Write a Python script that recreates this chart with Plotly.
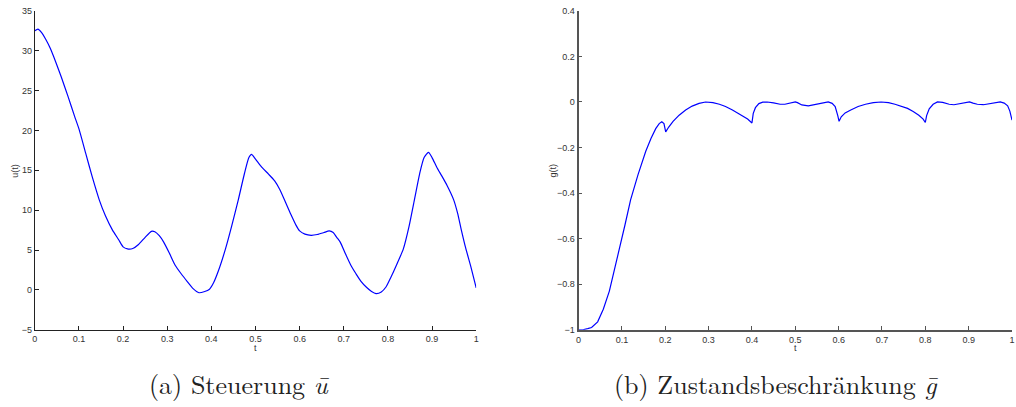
import plotly.graph_objects as go

# Left panel: control u(t)
t_u = [0.000, 0.007, 0.015, 0.025, 0.035, 0.048, 0.060, 0.075, 0.090, 0.100,
       0.116, 0.130, 0.146, 0.160, 0.176, 0.190, 0.200, 0.210, 0.222, 0.235,
       0.250, 0.264, 0.272, 0.282, 0.292, 0.305, 0.318, 0.332, 0.345, 0.358,
       0.372, 0.385, 0.395, 0.405, 0.416, 0.432, 0.446, 0.461, 0.475, 0.485,
       0.491, 0.500, 0.514, 0.530, 0.543, 0.555, 0.568, 0.580, 0.592, 0.600,
       0.612, 0.626, 0.640, 0.655, 0.667, 0.676, 0.684, 0.692, 0.704, 0.716,
       0.728, 0.739, 0.752, 0.763, 0.773, 0.785, 0.796, 0.806, 0.820, 0.835,
       0.848, 0.860, 0.872, 0.882, 0.892, 0.900, 0.911, 0.922, 0.934, 0.949,
       0.958, 0.966, 0.976, 0.988, 1.000]
u_vals = [32.5, 32.7, 32.3, 31.4, 30.3, 28.5, 26.7, 24.3, 21.8, 20.2,
          17.0, 14.2, 11.3, 9.3, 7.5, 6.3, 5.4, 5.15, 5.2, 5.7,
          6.6, 7.35, 7.3, 6.8, 6.0, 4.6, 3.1, 2.0, 1.08, 0.2,
          -0.35, -0.2, 0.05, 0.9, 2.4, 5.15, 8.0, 11.3, 14.6, 16.6,
          17.0, 16.4, 15.4, 14.5, 13.7, 12.6, 11.0, 9.5, 8.1, 7.4,
          7.0, 6.85, 6.95, 7.2, 7.4, 7.2, 6.6, 6.0, 4.5, 3.1,
          2.0, 1.08, 0.3, -0.2, -0.45, -0.25, 0.4, 1.5, 3.2, 5.15,
          8.0, 11.3, 14.6, 16.6, 17.25, 16.6, 15.35, 14.3, 13.1, 11.3,
          9.6, 7.6, 5.3, 2.9, 0.26]

# Right panel: state constraint g(t)
t_g = [0.000, 0.010, 0.021, 0.030, 0.044, 0.057, 0.071, 0.083, 0.094, 0.107,
       0.120, 0.137, 0.155, 0.167, 0.178, 0.186, 0.192, 0.197, 0.201, 0.208,
       0.218, 0.232, 0.247, 0.262, 0.278, 0.293, 0.310, 0.325, 0.339, 0.355,
       0.368, 0.377, 0.390, 0.400, 0.403, 0.408, 0.416, 0.425, 0.435, 0.450,
       0.465, 0.476, 0.490, 0.500, 0.505, 0.515, 0.530, 0.545, 0.560, 0.576,
       0.585, 0.592, 0.598, 0.601, 0.606, 0.615, 0.628, 0.645, 0.662, 0.680,
       0.698, 0.715, 0.730, 0.745, 0.759, 0.772, 0.785, 0.795, 0.800, 0.803,
       0.809, 0.818, 0.828, 0.840, 0.855, 0.866, 0.880, 0.893, 0.902, 0.910,
       0.920, 0.934, 0.948, 0.962, 0.973, 0.982, 0.990, 0.995, 1.000]
g_vals = [-1.0, -1.0, -0.995, -0.99, -0.965, -0.91, -0.83, -0.74, -0.645, -0.54,
          -0.43, -0.32, -0.216, -0.16, -0.117, -0.095, -0.087, -0.095, -0.131, -0.11,
          -0.085, -0.058, -0.035, -0.018, -0.006, 0.0, -0.003, -0.01, -0.02, -0.035,
          -0.05, -0.06, -0.075, -0.092, -0.05, -0.025, -0.007, -0.001, 0.0, -0.004,
          -0.01, -0.01, -0.004, 0.0, -0.003, -0.013, -0.017, -0.012, -0.004, 0.0,
          -0.006, -0.02, -0.06, -0.085, -0.065, -0.048, -0.035, -0.02, -0.01, -0.003,
          0.0, -0.003, -0.01, -0.018, -0.028, -0.042, -0.058, -0.075, -0.09, -0.06,
          -0.03, -0.01, 0.0, -0.002, -0.01, -0.012, -0.008, -0.002, 0.0, -0.005,
          -0.01, -0.012, -0.008, -0.002, 0.0, -0.005, -0.017, -0.04, -0.08]

x_ticks = [0, 0.1, 0.2, 0.3, 0.4, 0.5, 0.6, 0.7, 0.8, 0.9, 1]
x_ticklabels = ["0", "0.1", "0.2", "0.3", "0.4", "0.5", "0.6", "0.7", "0.8", "0.9", "1"]
u_ticks = [-5, 0, 5, 10, 15, 20, 25, 30, 35]
g_ticks = [-1, -0.8, -0.6, -0.4, -0.2, 0, 0.2, 0.4]
g_ticklabels = ["\u22121", "\u22120.8", "\u22120.6", "\u22120.4", "\u22120.2", "0", "0.2", "0.4"]

captions = ["(a) Steuerung <i>\u016b</i>", "(b) Zustandsbeschr\u00e4nkung <i>g\u0304</i>"]

W, H = 1016, 407
tick_font = dict(family="Liberation Sans, Arial, sans-serif", size=9, color="#333333")

fig = go.Figure()
fig.add_trace(go.Scatter(x=t_u, y=u_vals, mode="lines",
                         line=dict(color="#0000ff", width=1.2, shape="spline", smoothing=0.6),
                         xaxis="x", yaxis="y", showlegend=False))
fig.add_trace(go.Scatter(x=t_g, y=g_vals, mode="lines",
                         line=dict(color="#0000ff", width=1.2),
                         xaxis="x2", yaxis="y2", showlegend=False))

ydom = [(H - 333) / H, (H - 6) / H]


def axis_style(color, width):
    return dict(showgrid=False, zeroline=False, showline=True, linecolor=color,
                linewidth=width, ticks="inside", ticklen=4, tickcolor=color, tickwidth=1,
                tickfont=tick_font, mirror=False)


fig.update_layout(
    width=W, height=H,
    margin=dict(l=0, r=0, t=0, b=0),
    paper_bgcolor="white", plot_bgcolor="white",
    xaxis=dict(domain=[32 / W, 476 / W], range=[0, 1], tickvals=x_ticks, ticktext=x_ticklabels,
               anchor="y", **axis_style("#222222", 1.2)),
    yaxis=dict(domain=ydom, range=[-5, 35], tickvals=u_ticks, anchor="x",
               **axis_style("#222222", 1.2)),
    xaxis2=dict(domain=[579 / W, 1015 / W], range=[0, 1], tickvals=x_ticks, ticktext=x_ticklabels,
                anchor="y2", **axis_style("#555555", 1.8)),
    yaxis2=dict(domain=ydom, range=[-1, 0.4], tickvals=g_ticks, ticktext=g_ticklabels,
                anchor="x2", **axis_style("#555555", 1.8)),
)

small = dict(family="Liberation Sans, Arial, sans-serif", size=9, color="#333333")
cap_font = dict(family="Latin Modern Roman, DejaVu Serif, Liberation Serif, serif", size=26,
                color="#222222")


def note(text, px, py, font, angle=0):
    return dict(text=text, xref="paper", yref="paper", x=px / W, y=(H - py) / H,
                xanchor="center", yanchor="middle", textangle=angle, showarrow=False, font=font)


annotations = [
    note("t", 254, 352, small),
    note("t", 797, 352, small),
    note("u(t)", 12, 170, small, -90),
    note("g(t)", 553, 170, small, -90),
    note(captions[0], 238, 388, cap_font),
    note(captions[1], 778, 388, cap_font),
]
fig.update_layout(annotations=annotations)

fig.write_html("out.html")
